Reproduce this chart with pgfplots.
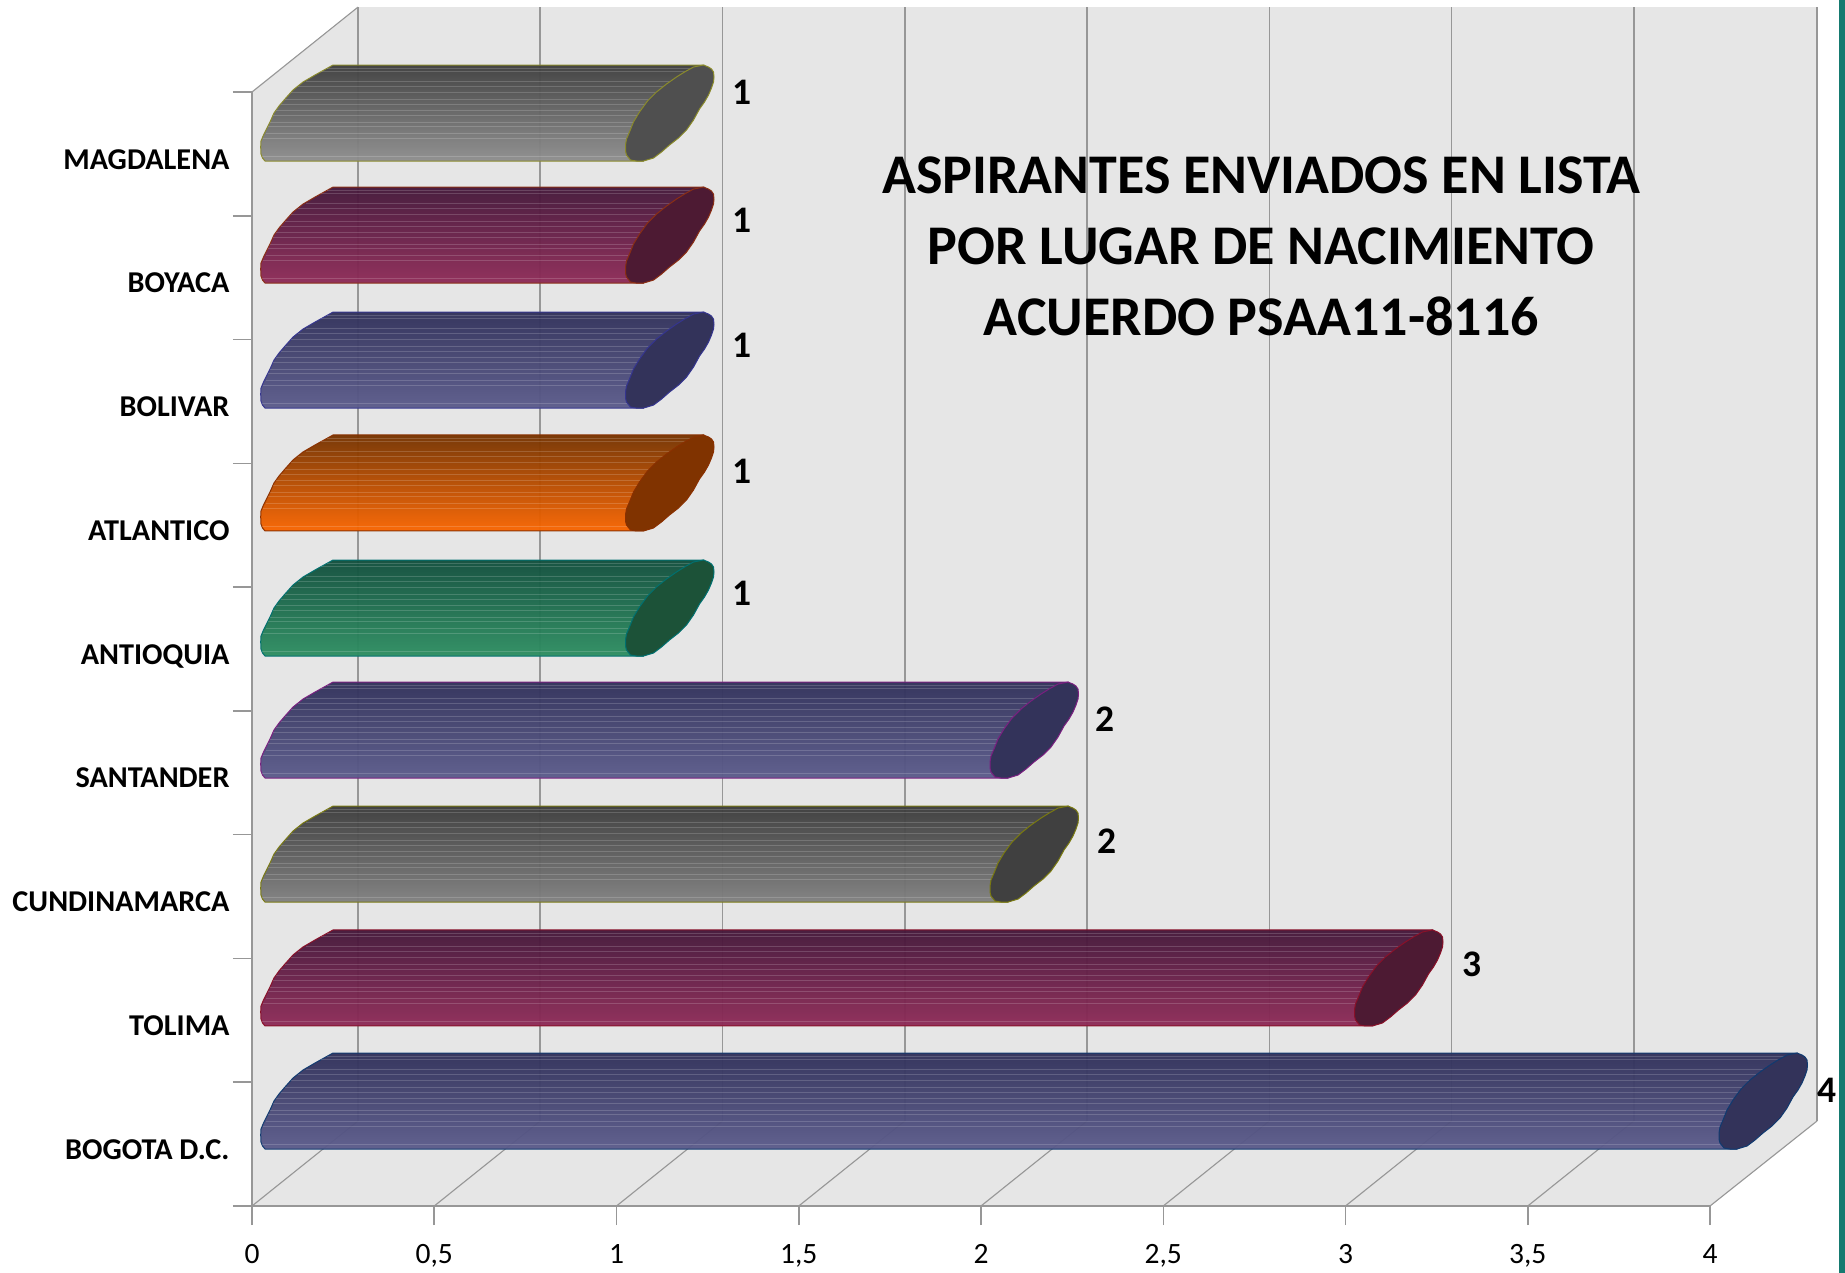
\documentclass[border=0pt]{standalone}
\usepackage{pgfplots}
\usepackage{pgfplotstable}
\usepackage{fontspec}
\setmainfont{Carlito}
\pgfplotsset{compat=1.18}
\definecolor{wallc}{HTML}{E6E6E6}
\definecolor{gridc}{HTML}{979797}
\definecolor{tealc}{HTML}{157A70}
\definecolor{grayT}{HTML}{3F3F3F}\definecolor{grayB}{HTML}{8F8F8F}\definecolor{grayE}{HTML}{8A8A2A}\definecolor{grayC}{HTML}{4F4F4F}
\definecolor{marT}{HTML}{44173A}\definecolor{marB}{HTML}{8F2B58}\definecolor{marE}{HTML}{8A2E14}\definecolor{marC}{HTML}{4D1A33}
\definecolor{bluT}{HTML}{31315A}\definecolor{bluB}{HTML}{5C5C8C}\definecolor{bluE}{HTML}{35358F}\definecolor{bluC}{HTML}{33335A}
\definecolor{oraT}{HTML}{763400}\definecolor{oraB}{HTML}{F96500}\definecolor{oraE}{HTML}{8A3000}\definecolor{oraC}{HTML}{803300}
\definecolor{greT}{HTML}{114F3D}\definecolor{greB}{HTML}{2E8F62}\definecolor{greE}{HTML}{007070}\definecolor{greC}{HTML}{1C5238}
\definecolor{sanE}{HTML}{7A1F80}
\definecolor{cunT}{HTML}{3C3C3C}\definecolor{cunB}{HTML}{808080}\definecolor{cunE}{HTML}{7A7A10}\definecolor{cunC}{HTML}{404040}
\definecolor{tolE}{HTML}{8A1028}
\definecolor{bogE}{HTML}{103A70}
% one pixel of the reference = 0.4pt
\pgfplotstableread{
dx m py
13 0 1149
10.5 0 1146
9 0 1142
8.7 0 1135
9 0 1129
11.5 0 1123
15 0 1116
18 0 1110
22 0 1101
27 0 1094
33 0 1087
41 0 1078
51 0 1070
63 0 1063
72 0 1058
81 0 1053
87 1 1053
27 1 1149
13 0 1149
}\bodyshape
\pgfplotstableread{
dx m py
9 1 1133
9 1 1139
10 1 1143
14 1 1148
20 1 1149
27 1 1149
37 1 1146
45 1 1140
53 1 1133
62 1 1126
70 1 1118
77 1 1108
83 1 1097
88 1 1090
92 1 1083
95 1 1076
97 1 1070
97.5 1 1065
97 1 1060
95 1 1057
92 1 1055
87 1 1053
77 1 1055
68 1 1060
60 1 1065
50 1 1072
40 1 1080
31 1 1089
23 1 1100
17 1 1110
13 1 1120
10 1 1127
9 1 1133
}\capshape
\pgfplotstableread{
dx m py
75 0 1056
75 1 1056
nan nan nan
69 0 1059
69 1 1059
nan nan nan
54 0 1069
54 1 1069
nan nan nan
46 0 1074
46 1 1074
nan nan nan
39 0 1080
39 1 1080
nan nan nan
33 0 1087
33 1 1087
nan nan nan
29 0 1092
29 1 1092
nan nan nan
24 0 1098
24 1 1098
nan nan nan
21 0 1103
21 1 1103
nan nan nan
18 0 1110
18 1 1110
nan nan nan
16 0 1114
16 1 1114
nan nan nan
14 0 1121
14 1 1121
nan nan nan
11 0 1126
11 1 1126
nan nan nan
10 0 1144
10 1 1144
}\stripeshape
% label positions: value v, position x y
\pgfplotstableread{
x y v
4.320 0.937 4
3.347 1.955 3
2.347 2.949 2
2.340 3.934 2
1.344 4.952 1
1.344 5.938 1
1.344 6.956 1
1.344 7.966 1
1.344 9.000 1
}\labelstable
\newcommand\cyl[6]{%
 \addplot[draw=#5,line width=0.4pt,top color=#3,bottom color=#4,opacity=0.96,forget plot]
   table[x expr=#1*\thisrow{m}+\thisrow{dx}/364.5,y expr=#2+(1206-\thisrow{py})/123.78]{\bodyshape};
 \addplot[draw=white,line width=0.3pt,draw opacity=0.17,unbounded coords=jump,forget plot]
   table[x expr=#1*\thisrow{m}+\thisrow{dx}/364.5,y expr=#2+(1206-\thisrow{py})/123.78]{\stripeshape};
 \addplot[draw=#5,line width=0.4pt,fill=#6,forget plot]
   table[x expr=#1*\thisrow{m}+\thisrow{dx}/364.5,y expr=#2+(1206-\thisrow{py})/123.78]{\capshape};
}
\begin{document}
\begin{tikzpicture}
\begin{axis}[
  scale only axis,
  width=583.2pt,height=445.6pt,
  xmin=0,xmax=4,ymin=0,ymax=9,
  clip=false,
  axis lines=left,
  axis line style={-,draw=gridc,line width=0.6pt},
  axis on top=true,
  tick align=outside,
  major tick length=7.6pt,
  minor tick length=7.6pt,
  xtick={0,0.5,1,1.5,2,2.5,3,3.5,4},
  xticklabels={0,{0,5},1,{1,5},2,{2,5},3,{3,5},4},
  ytick={0.465,1.465,2.465,3.465,4.465,5.465,6.465,7.465,8.465},
  yticklabels={BOGOTA D.C.,TOLIMA,CUNDINAMARCA,SANTANDER,ANTIOQUIA,ATLANTICO,BOLIVAR,BOYACA,MAGDALENA},
  minor ytick={0,1,2,3,4,5,6,7,8,9},
  every major y tick/.style={draw=none},
  every minor y tick/.style={draw=gridc,line width=0.6pt},
  every major x tick/.style={draw=gridc,line width=0.6pt},
  xticklabel style={font=\fontsize{11.8}{14}\selectfont,text=black,yshift=-4.2pt},
  yticklabel style={font=\fontsize{12.1}{14}\selectfont\bfseries,text=black,inner sep=1.2pt,
    text height=0.65em,text depth=0.12em,yshift=-1.7pt},
]
% walls and floor
\addplot[fill=wallc,draw=none,forget plot] coordinates {
 (0,0)(0,9)(0.2908,9.686)(4.2936,9.686)(4.2936,0.6867)(4,0)(0,0)};
\addplot[draw=gridc,line width=0.6pt,unbounded coords=jump,forget plot] coordinates {
 (0.2908,0.6867)(0.2908,9.686)(nan,nan)
 (0.7908,0.6867)(0.7908,9.686)(nan,nan)
 (1.2908,0.6867)(1.2908,9.686)(nan,nan)
 (1.7908,0.6867)(1.7908,9.686)(nan,nan)
 (2.2908,0.6867)(2.2908,9.686)(nan,nan)
 (2.7908,0.6867)(2.7908,9.686)(nan,nan)
 (3.2908,0.6867)(3.2908,9.686)(nan,nan)
 (3.7908,0.6867)(3.7908,9.686)(nan,nan)
 (4.2936,0.6867)(4.2936,9.686)};
\addplot[draw=gridc,line width=0.45pt,unbounded coords=jump,forget plot] coordinates {
 (0,9)(0.2908,9.686)(nan,nan)
 (0,0)(0.2908,0.6867)(nan,nan)
 (0.5,0)(0.7908,0.6867)(nan,nan)
 (1,0)(1.2908,0.6867)(nan,nan)
 (1.5,0)(1.7908,0.6867)(nan,nan)
 (2,0)(2.2908,0.6867)(nan,nan)
 (2.5,0)(2.7908,0.6867)(nan,nan)
 (3,0)(3.2908,0.6867)(nan,nan)
 (3.5,0)(3.7908,0.6867)(nan,nan)
 (4,0)(4.2936,0.6867)};
% teal strip at the right edge of the page
\addplot[fill=tealc,draw=none,forget plot] coordinates {
 (4.3539,-0.54)(4.3704,-0.54)(4.3704,9.75)(4.3539,9.75)(4.3539,-0.54)};
% bars (top to bottom)
\cyl{1}{7.982}{grayT}{grayB}{grayE}{grayC}
\cyl{1}{6.996}{marT}{marB}{marE}{marC}
\cyl{1}{5.986}{bluT}{bluB}{bluE}{bluC}
\cyl{1}{4.993}{oraT}{oraB}{oraE}{oraC}
\cyl{1}{3.983}{greT}{greB}{greE}{greC}
\cyl{2}{2.997}{bluT}{bluB}{sanE}{bluC}
\cyl{2}{1.995}{cunT}{cunB}{cunE}{cunC}
\cyl{3}{0.994}{marT}{marB}{tolE}{marC}
\cyl{4}{0}{bluT}{bluB}{bogE}{bluC}
% value labels
\addplot[draw=none,mark=none,forget plot,
  nodes near coords,point meta=explicit symbolic,
  every node near coord/.style={anchor=center,inner sep=0pt,text=black,
    font=\fontsize{15}{17}\selectfont\bfseries}]
  table[x=x,y=y,meta=v]{\labelstable};
\node[align=center,text=black,font=\fontsize{22.4}{28.4}\selectfont\bfseries]
  at (axis cs:2.769,7.756)
  {ASPIRANTES ENVIADOS EN LISTA\\POR LUGAR DE NACIMIENTO\\ACUERDO PSAA11-8116};
\end{axis}
\pgfresetboundingbox
\path[use as bounding box] (-100.8pt,-26.4pt) rectangle (637.2pt,482.4pt);
\end{tikzpicture}
\end{document}
